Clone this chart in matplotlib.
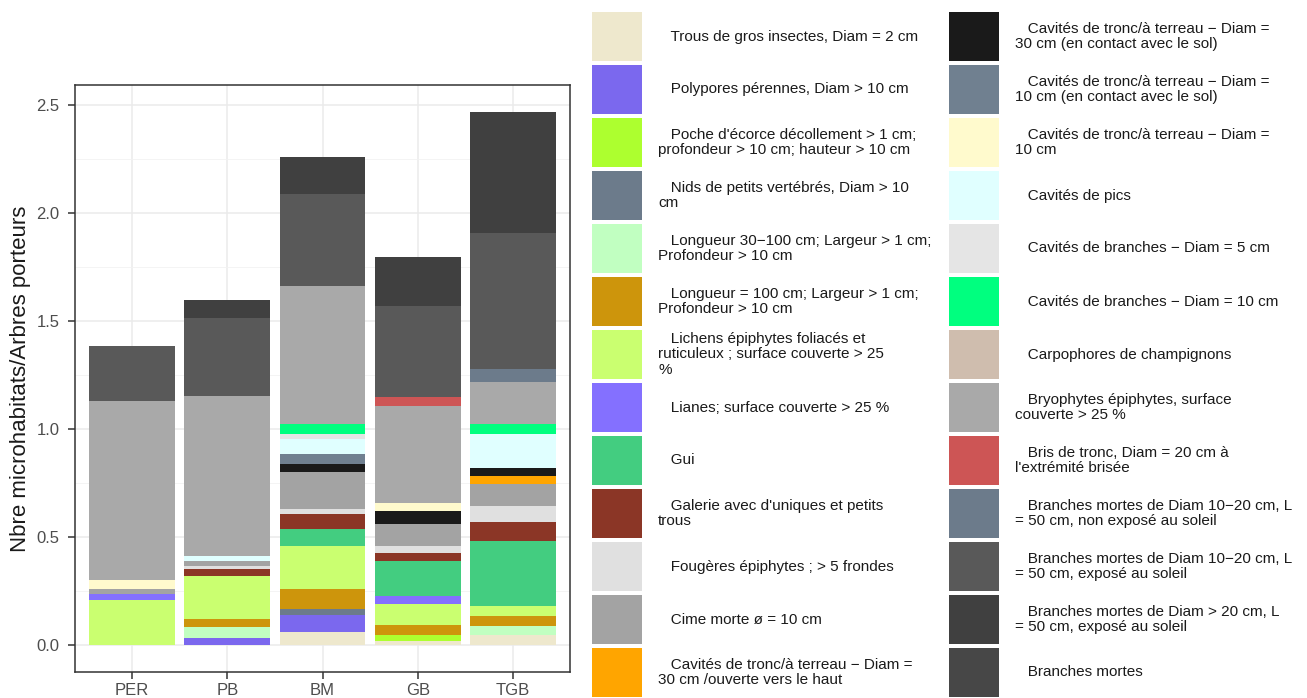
import numpy as np
import matplotlib.pyplot as plt
from matplotlib.patches import Rectangle

plt.rcParams['font.family'] = ['Liberation Sans', 'DejaVu Sans']

# groups on the x axis
groups = ["PER", "PB", "BM", "GB", "TGB"]

# microhabitat types, in stacking / legend order
labels = [
    "Trous de gros insectes, Diam = 2 cm",
    "Polypores pérennes, Diam > 10 cm",
    "Poche d'écorce décollement > 1 cm;\nprofondeur > 10 cm; hauteur > 10 cm",
    "Nids de petits vertébrés, Diam > 10\ncm",
    "Longueur 30\u2212100 cm; Largeur > 1 cm;\nProfondeur > 10 cm",
    "Longueur = 100 cm; Largeur > 1 cm;\nProfondeur > 10 cm",
    "Lichens épiphytes foliacés et\nruticuleux ; surface couverte > 25\n%",
    "Lianes; surface couverte > 25 %",
    "Gui",
    "Galerie avec d'uniques et petits\ntrous",
    "Fougères épiphytes ; > 5 frondes",
    "Cime morte ø = 10 cm",
    "Cavités de tronc/à terreau \u2212 Diam =\n30 cm /ouverte vers le haut",
    "Cavités de tronc/à terreau \u2212 Diam =\n30 cm (en contact avec le sol)",
    "Cavités de tronc/à terreau \u2212 Diam =\n10 cm (en contact avec le sol)",
    "Cavités de tronc/à terreau \u2212 Diam =\n10 cm",
    "Cavités de pics",
    "Cavités de branches \u2212 Diam = 5 cm",
    "Cavités de branches \u2212 Diam = 10 cm",
    "Carpophores de champignons",
    "Bryophytes épiphytes, surface\ncouverte > 25 %",
    "Bris de tronc, Diam = 20 cm à\nl'extrémité brisée",
    "Branches mortes de Diam 10\u221220 cm, L\n= 50 cm, non exposé au soleil",
    "Branches mortes de Diam 10\u221220 cm, L\n= 50 cm, exposé au soleil",
    "Branches mortes de Diam > 20 cm, L\n= 50 cm, exposé au soleil",
    "Branches mortes",
]

colors = [
    "#EEE8CD", "#7B68EE", "#ADFF2F", "#6C7B8B", "#C1FFC1", "#CD950C",
    "#CAFF70", "#8470FF", "#43CD80", "#8B3626", "#E0E0E0", "#A3A3A3",
    "#FFA500", "#1A1A1A", "#708090", "#FFFACD", "#E0FFFF", "#E5E5E5",
    "#00FF7F", "#CFBDAE", "#A9A9A9", "#CD5555", "#6C7B8B", "#595959",
    "#404040", "#474747",
]

# values per group, one entry per microhabitat type (same order as labels)
per = [0, 0, 0, 0, 0, 0, 0.208, 0.031, 0, 0, 0, 0.023, 0, 0, 0, 0.038,
       0, 0, 0, 0, 0.831, 0, 0, 0.253, 0, 0]
pb = [0, 0.034, 0, 0, 0.051, 0.037, 0.198, 0, 0, 0.031, 0.015, 0.024, 0,
      0, 0, 0, 0.023, 0, 0, 0, 0.738, 0, 0, 0.364, 0.081, 0]
bm = [0.062, 0.080, 0, 0.026, 0, 0.093, 0.198, 0, 0.077, 0.070, 0.023,
      0.171, 0, 0.038, 0.046, 0, 0.070, 0.023, 0.046, 0, 0.638, 0, 0,
      0.425, 0.171, 0]
gb = [0.020, 0, 0.030, 0, 0, 0.046, 0.097, 0.034, 0.163, 0.038, 0.031,
      0.101, 0, 0.061, 0, 0.039, 0, 0, 0, 0, 0.448, 0.039, 0, 0.423,
      0.226, 0]
tgb = [0.050, 0, 0, 0, 0.038, 0.046, 0.047, 0, 0.301, 0.088, 0.075, 0.100,
       0.039, 0.038, 0, 0, 0.155, 0, 0.046, 0, 0.196, 0, 0.060, 0.628,
       0.561, 0]

vals = np.array([per, pb, bm, gb, tgb]).T  # (types, groups)

W, H = 1307, 698
fig = plt.figure(figsize=(W / 100, H / 100), dpi=100)
ax = fig.add_axes([75 / W, 1 - 672 / H, (570 - 75) / W, (672 - 85) / H])

x = np.arange(len(groups)) + 1
bottom = np.zeros(len(groups))
for i in range(len(labels)):
    ax.bar(x, vals[i], 0.9, bottom=bottom, color=colors[i], linewidth=0,
           zorder=2)
    bottom += vals[i]

top = bottom.max()
ax.set_xlim(0.4, len(groups) + 0.6)
ax.set_ylim(-0.05 * top, 1.05 * top)
ax.set_xticks(x)
ax.set_xticklabels(groups)
ax.set_yticks([0, 0.5, 1.0, 1.5, 2.0, 2.5])
ax.set_yticklabels(["0.0", "0.5", "1.0", "1.5", "2.0", "2.5"])
ax.set_yticks([0.25, 0.75, 1.25, 1.75, 2.25], minor=True)
ax.grid(True, which='major', color='#EBEBEB', linewidth=1.1, zorder=0)
ax.grid(True, which='minor', axis='y', color='#F2F2F2', linewidth=0.6,
        zorder=0)
ax.set_axisbelow(True)
for s in ax.spines.values():
    s.set_color('#333333')
    s.set_linewidth(1.1)
ax.tick_params(which='major', length=5, width=1.1, color='#333333',
               labelcolor='#4D4D4D', labelsize=12, pad=3)
ax.tick_params(axis='y', which='major', pad=6)
ax.tick_params(which='minor', length=0)
ax.set_ylabel("Nbre microhabitats/Arbres porteurs", fontsize=16,
              color='#1A1A1A', labelpad=4)

# legend, two columns of 13 keys
key_w, key_h, pitch = 50, 49, 53
col_x = [592, 949]
for i, (lab, c) in enumerate(zip(labels, colors)):
    col = i // 13
    row = i % 13
    kx = col_x[col]
    ky = 12 + row * pitch
    fig.patches.append(Rectangle((kx / W, 1 - (ky + key_h) / H), key_w / W,
                                 key_h / H, transform=fig.transFigure,
                                 facecolor=c, edgecolor='none'))
    fig.text((kx + key_w + 16) / W, 1 - (ky + key_h / 2) / H,
             "   " + lab, ha='left', va='center', fontsize=11,
             color='#1A1A1A', linespacing=1.12)

fig.savefig("out.png", dpi=100)
